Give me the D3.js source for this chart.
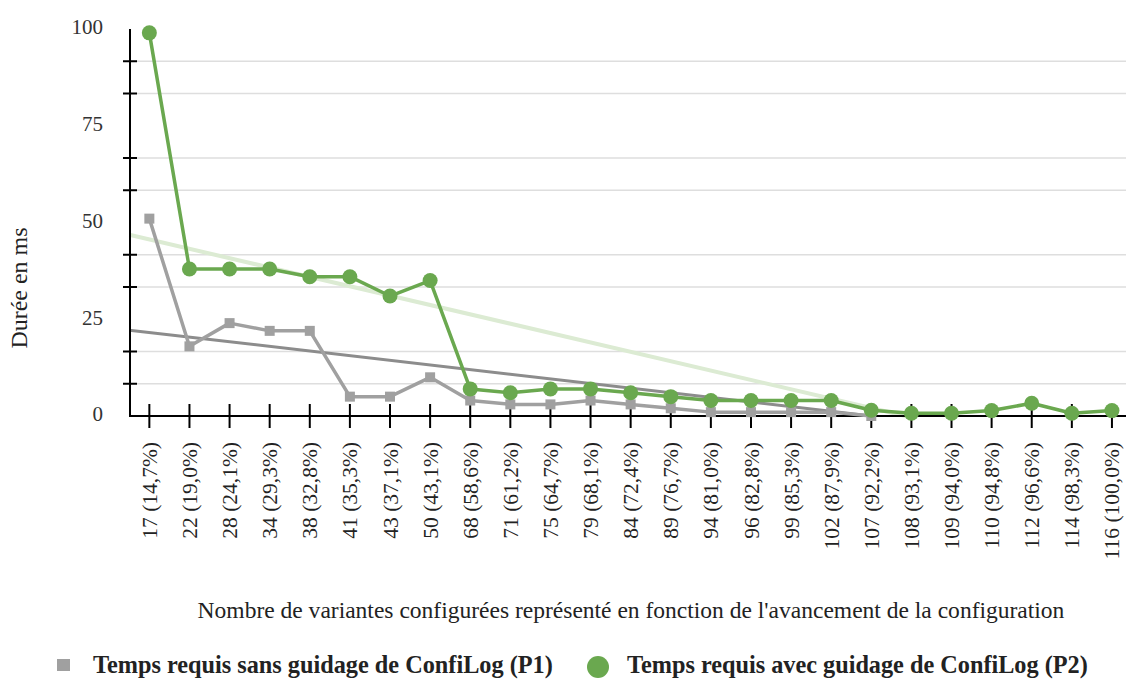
<!DOCTYPE html>
<html><head><meta charset="utf-8">
<script src="https://cdn.jsdelivr.net/npm/d3@7"></script>
<style>
html,body{margin:0;padding:0;background:#fff;}
svg{display:block;font-family:"Liberation Serif","DejaVu Serif","Times New Roman",serif;}
</style></head>
<body>
<svg id="chart" width="1126" height="679"></svg>
<script>
const categories = ["17 (14,7%)","22 (19,0%)","28 (24,1%)","34 (29,3%)","38 (32,8%)","41 (35,3%)","43 (37,1%)","50 (43,1%)","68 (58,6%)","71 (61,2%)","75 (64,7%)","79 (68,1%)","84 (72,4%)","89 (76,7%)","94 (81,0%)","96 (82,8%)","99 (85,3%)","102 (87,9%)","107 (92,2%)","108 (93,1%)","109 (94,0%)","110 (94,8%)","112 (96,6%)","114 (98,3%)","116 (100,0%)"];
const p1Values = [51,18,24,22,22,5,5,10,4,3,3,4,3,2,1,1,1,1,0,null,null,null,null,null,null];
const p2Values = [99,38,38,38,36,36,31,35,7,6,7,7,6,5,4,4,4,4,1.5,0.7,0.7,1.4,3.3,0.7,1.4];
const yTickLabels = [0,25,50,75,100];
const seriesNames = ["Temps requis sans guidage de ConfiLog (P1)","Temps requis avec guidage de ConfiLog (P2)"];
const xTitle = "Nombre de variantes configurées représenté en fonction de l'avancement de la configuration";
const yTitle = "Durée en ms";

(function () {
const svg = d3.select("#chart");
const W = 1126;
const plotLeft = 130, plotTop = 29, plotBottom = 416;

const x = d3.scalePoint().domain(categories).range([129.3, 1132]).padding(0.5);
const y = d3.scaleLinear().domain([0, 100]).range([plotBottom, plotTop]);
const step = x.step();
const x0 = x(categories[0]);
const xi = i => x0 + (i - 1) * step;   // i: 1-based fractional category index

const GREEN = "#6aa84f", GRAY = "#a0a0a0";

// gridlines (minor divisions of 100/12, except labelled ones)
const gridVals = d3.range(1, 12).filter(i => i % 3 !== 0).map(i => i * 100 / 12);
svg.append("g").selectAll("line").data(gridVals).join("line")
  .attr("x1", 136).attr("x2", W).attr("y1", d => y(d)).attr("y2", d => y(d))
  .attr("stroke", "#dedede").attr("stroke-width", 1.5);

// trendlines (linear regression, blanks counted as 0)
function trend(vals) {
  const n = vals.length;
  const v = vals.map(d => d == null ? 0 : d);
  const xs = d3.range(1, n + 1);
  const mx = d3.mean(xs), my = d3.mean(v);
  let sxy = 0, sxx = 0;
  xs.forEach((xv, k) => { sxy += (xv - mx) * (v[k] - my); sxx += (xv - mx) * (xv - mx); });
  const b = sxy / sxx, a = my - b * mx;
  const iStart = 0.5;
  let iEnd = n + 0.5;
  if (b < 0) iEnd = Math.min(iEnd, -a / b);
  return [[iStart, a + b * iStart], [iEnd, Math.max(0, a + b * iEnd)]];
}
const tl = d3.line().x(d => xi(d[0])).y(d => y(d[1]));
svg.append("path").attr("d", tl(trend(p2Values))).attr("fill", "none")
  .attr("stroke", "#dcebd3").attr("stroke-width", 4);
svg.append("path").attr("d", tl(trend(p1Values))).attr("fill", "none")
  .attr("stroke", "#8c8c8c").attr("stroke-width", 3);

// axes
const yAxisG = svg.append("g");
yAxisG.append("line").attr("x1", plotLeft).attr("x2", plotLeft).attr("y1", plotTop).attr("y2", plotBottom)
  .attr("stroke", "#000").attr("stroke-width", 2);
yAxisG.selectAll("line.tk").data(gridVals).join("line").attr("class", "tk")
  .attr("x1", 123).attr("x2", 137).attr("y1", d => y(d)).attr("y2", d => y(d))
  .attr("stroke", "#000").attr("stroke-width", 2);
yAxisG.selectAll("text").data(yTickLabels).join("text")
  .attr("x", 103).attr("y", d => y(d) - 2).attr("dy", "0.35em")
  .attr("text-anchor", "end").attr("font-size", 21).attr("fill", "#333")
  .text(d => d);

const xAxisG = svg.append("g");
xAxisG.append("line").attr("x1", plotLeft - 1).attr("x2", W).attr("y1", plotBottom).attr("y2", plotBottom)
  .attr("stroke", "#000").attr("stroke-width", 2);
xAxisG.selectAll("line.tk").data(categories).join("line").attr("class", "tk")
  .attr("x1", d => x(d)).attr("x2", d => x(d)).attr("y1", 404).attr("y2", 428)
  .attr("stroke", "#000").attr("stroke-width", 2);
xAxisG.selectAll("text").data(categories).join("text")
  .attr("transform", d => `translate(${x(d)},442) rotate(-90)`)
  .attr("dy", "0.35em").attr("text-anchor", "end").attr("font-size", 21.5).attr("fill", "#222")
  .text(d => d);

// series
const line = d3.line().defined(d => d.v != null).x(d => x(d.c)).y(d => y(d.v));
const p1Data = categories.map((c, k) => ({c, v: p1Values[k]}));
const p2Data = categories.map((c, k) => ({c, v: p2Values[k]}));
svg.append("path").attr("d", line(p1Data)).attr("fill", "none").attr("stroke", GRAY)
  .attr("stroke-width", 3.5).attr("stroke-linejoin", "round");
svg.append("g").selectAll("rect").data(p1Data.filter(d => d.v != null)).join("rect")
  .attr("x", d => x(d.c) - 5).attr("y", d => y(d.v) - 5).attr("width", 10).attr("height", 10)
  .attr("fill", GRAY);
svg.append("path").attr("d", line(p2Data)).attr("fill", "none").attr("stroke", GREEN)
  .attr("stroke-width", 3.5).attr("stroke-linejoin", "round");
svg.append("g").selectAll("circle").data(p2Data).join("circle")
  .attr("cx", d => x(d.c)).attr("cy", d => y(d.v)).attr("r", 7.5).attr("fill", GREEN);

// fit helper
function fit(sel, target) {
  const w = sel.node().getComputedTextLength();
  const fs = parseFloat(sel.attr("font-size"));
  sel.attr("font-size", fs * target / w);
}

// axis titles
const xt = svg.append("text").attr("x", 631).attr("y", 618).attr("text-anchor", "middle")
  .attr("font-size", 20).attr("fill", "#222").text(xTitle);
fit(xt, 867);
const yt = svg.append("text").attr("transform", "translate(27,288) rotate(-90)")
  .attr("text-anchor", "middle").attr("font-size", 20).attr("fill", "#222").text(yTitle);
fit(yt, 121);

// legend
const lg = svg.append("g");
lg.append("rect").attr("x", 57).attr("y", 659).attr("width", 13).attr("height", 12).attr("fill", GRAY);
const l1 = lg.append("text").attr("x", 93).attr("y", 673).attr("font-size", 20)
  .attr("font-weight", "bold").attr("fill", "#222").text(seriesNames[0]);
fit(l1, 460);
lg.append("circle").attr("cx", 598).attr("cy", 667).attr("r", 11).attr("fill", GREEN);
const l2 = lg.append("text").attr("x", 627).attr("y", 673).attr("font-size", 20)
  .attr("font-weight", "bold").attr("fill", "#222").text(seriesNames[1]);
fit(l2, 461);
})();
</script>
</body></html>
